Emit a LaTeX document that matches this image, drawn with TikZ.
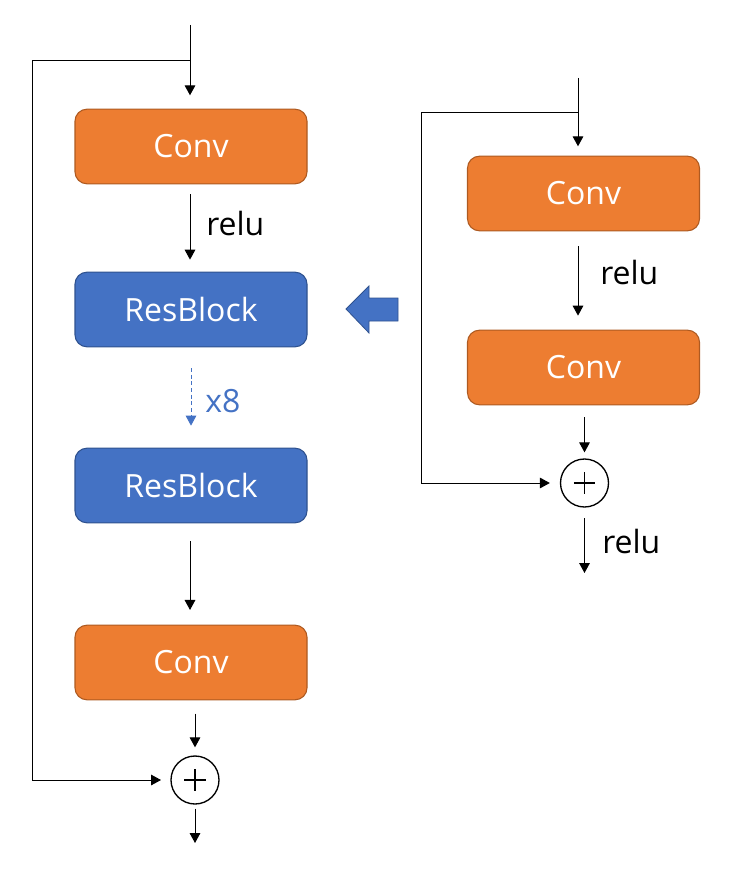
\documentclass[tikz,border=0pt]{standalone}
\usepackage{fontspec}
\setmainfont{Open Sans}
\usetikzlibrary{arrows.meta}
\definecolor{orfill}{HTML}{ED7D31}
\definecolor{ordraw}{HTML}{AE5A21}
\definecolor{blfill}{HTML}{4472C4}
\definecolor{bldraw}{HTML}{2F528F}
\tikzset{
  blk/.style={rounded corners=9pt, minimum width=174pt, minimum height=56pt, inner sep=0pt, line width=0.8pt, text=white, font=\fontsize{24}{28}\selectfont},
  orbox/.style={blk, fill=orfill, draw=ordraw},
  blbox/.style={blk, fill=blfill, draw=bldraw},
  arr/.style={-{Triangle[width=8pt,length=7.5pt]}, line width=0.75pt},
  ln/.style={line width=0.75pt},
  plusnode/.style={circle, draw, line width=1pt, minimum size=36pt, inner sep=0pt,
    path picture={
      \draw[line width=1pt] ([xshift=-8pt]path picture bounding box.center) -- ([xshift=8pt]path picture bounding box.center);
      \draw[line width=1pt] ([yshift=-8pt]path picture bounding box.center) -- ([yshift=8pt]path picture bounding box.center);
    }},
  lbl/.style={font=\fontsize{24}{28}\selectfont, inner sep=0pt},
}
\begin{document}
\begin{tikzpicture}[x=0.75pt,y=-0.75pt]
\useasboundingbox (0,0) rectangle (745,880);
% left column
\coordinate (inL) at (190,25);
\coordinate (brL) at (32,61);
\node[orbox] (conv1) at (191,146.5) {Conv};
\node[blbox] (res1) at (191,309.5) {ResBlock};
\node[blbox] (res2) at (191,485.5) {ResBlock};
\node[orbox] (conv3) at (191,662.5) {Conv};
\node[plusnode] (plusL) at (195,780) {};
\coordinate (outL) at (195,843);
\node[lbl, anchor=west] (reluL) at (206,224) {relu};
\node[lbl, anchor=west, text=blfill] (x8) at (205,401) {x8};

\draw[arr, shorten >=10pt] (inL) -- (inL |- conv1.north);
\draw[ln] (inL |- brL) -- (brL);
\draw[arr, shorten >=7pt] (brL) |- (plusL);
\draw[arr, shorten <=7.5pt, shorten >=9pt] (conv1.south -| inL) -- (res1.north -| inL);
\draw[arr, blfill, line width=0.6pt, dash pattern=on 3pt off 2pt, shorten <=15.5pt, shorten >=16.5pt] (res1.south) -- (res2.north);
\draw[arr, shorten <=13.5pt, shorten >=11pt] (res2.south -| inL) -- (conv3.north -| inL);
\draw[arr, shorten <=10pt, shorten >=6pt] (conv3.south -| plusL) -- (plusL);
\draw[arr, shorten <=3pt] (plusL) -- (outL);

% right column
\coordinate (inR) at (578,78);
\coordinate (brR) at (421,113);
\node[orbox] (convR1) at (583.5,193.5) {Conv};
\node[orbox] (convR2) at (583.5,367.5) {Conv};
\node[plusnode] (plusR) at (584.5,483) {};
\coordinate (outR) at (584.5,573);
\node[lbl, anchor=west] (reluR1) at (600,273) {relu};
\node[lbl, anchor=west] (reluR2) at (602,541) {relu};

\draw[arr, shorten >=7pt] (inR) -- (inR |- convR1.north);
\draw[ln] (inR |- brR) -- (brR);
\draw[arr, shorten >=7.5pt] (brR) |- (plusR);
\draw[arr, shorten <=11pt, shorten >=10.5pt] (convR1.south -| inR) -- (convR2.north -| inR);
\draw[arr, shorten <=9pt, shorten >=4.5pt] (convR2.south -| plusR) -- (plusR);
\draw[arr, shorten <=8pt] (plusR) -- (outR);

% big blue arrow
\draw[fill=blfill, draw=bldraw, line width=0.6pt] (346,309) -- (369,286) -- (369,298) -- (398,298) -- (398,321) -- (369,321) -- (369,333) -- cycle;
\end{tikzpicture}
\end{document}
